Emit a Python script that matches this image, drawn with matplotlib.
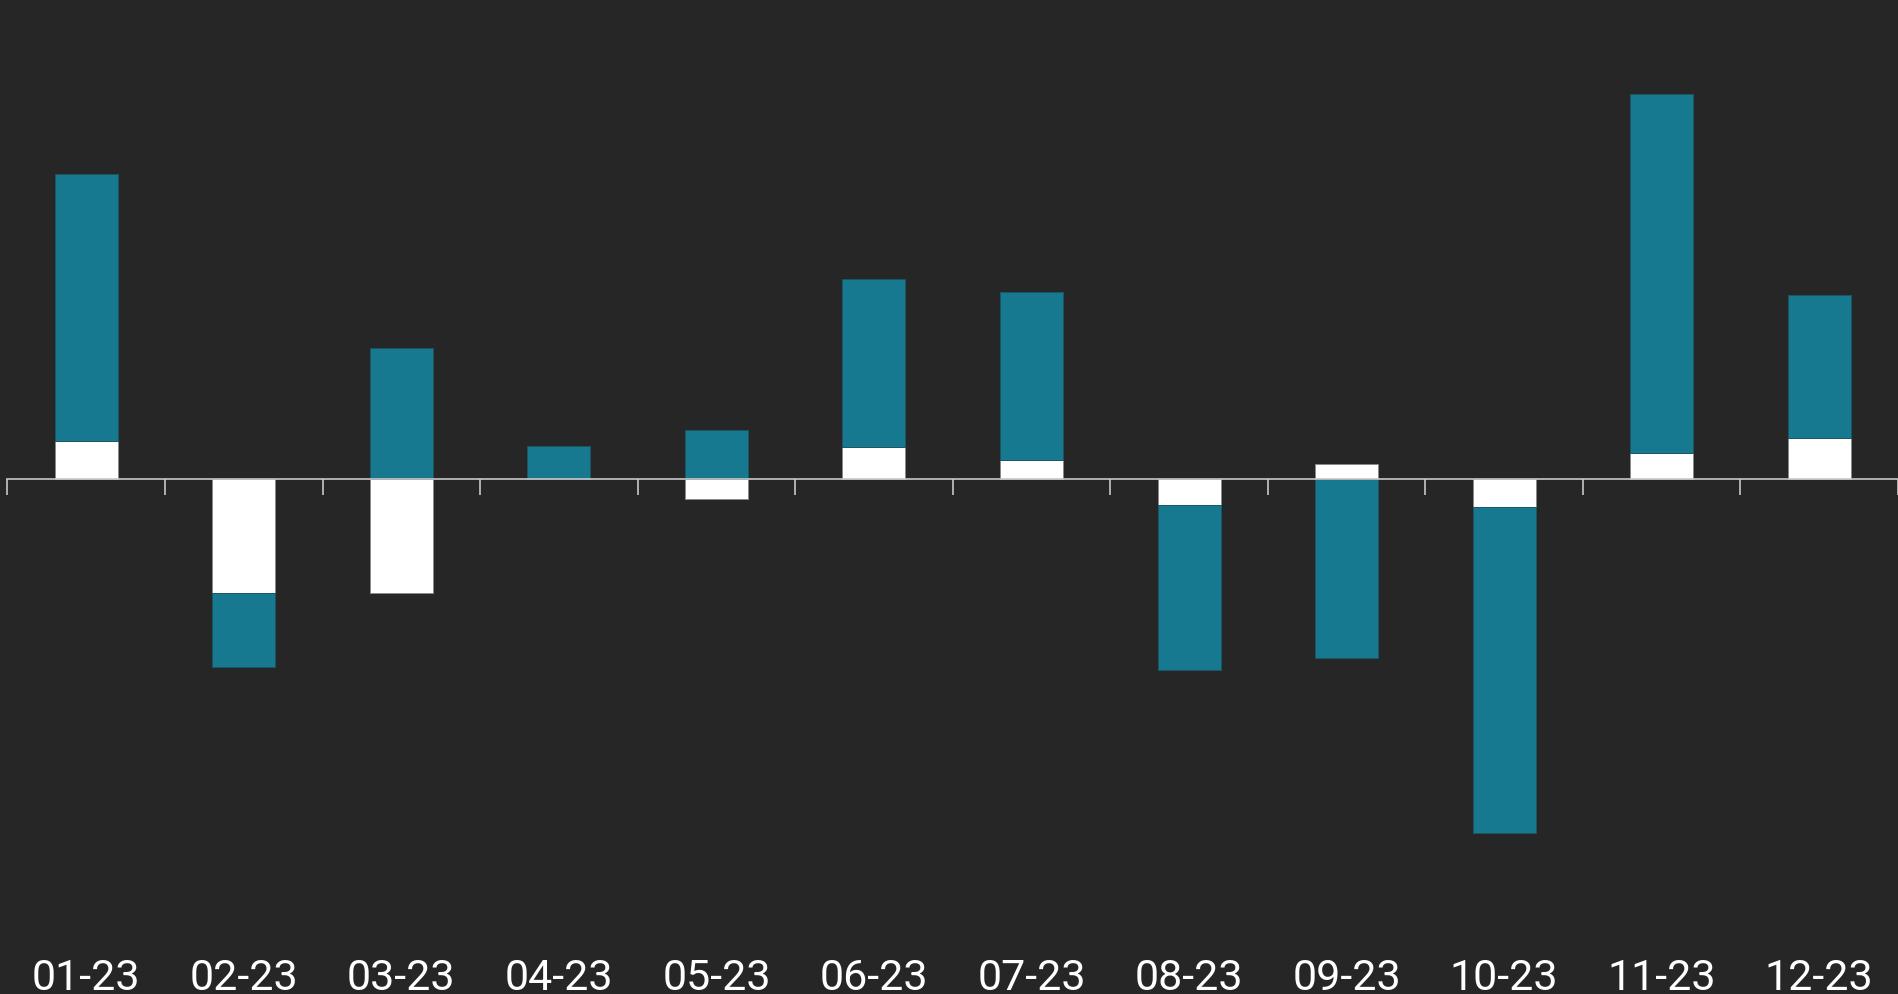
import numpy as np
import matplotlib
matplotlib.use("Agg")
import matplotlib.pyplot as plt
from matplotlib.transforms import blended_transform_factory

# ---- data ----
months = ["01-23", "02-23", "03-23", "04-23", "05-23", "06-23",
          "07-23", "08-23", "09-23", "10-23", "11-23", "12-23"]
white_vals = [0.38, -1.14, -1.14, 0.0, -0.205, 0.32, 0.19, -0.265, 0.15, -0.28, 0.26, 0.41]
teal_vals = [2.67, -0.74, 1.31, 0.33, 0.485, 1.68, 1.675, -1.645, -1.79, -3.26, 3.585, 1.425]

BG = "#262626"
TEAL = "#17798f"
WHITE = "#ffffff"
AXIS = "#c8c8c8"

plt.rcParams['font.family'] = ['Roboto', 'DejaVu Sans']

fig = plt.figure(figsize=(18.98, 9.95), dpi=100, facecolor=BG)
ax = fig.add_axes([0, 0, 1, 1])
ax.set_facecolor(BG)

x = np.arange(len(months))
white = np.array(white_vals)
teal = np.array(teal_vals)
teal_bottom = np.where(np.sign(teal) == np.sign(white), white, 0.0)

width = 0.40
ax.bar(x, white, width=width, color=WHITE, edgecolor="#8a8a8a", linewidth=0.7, zorder=1)
ax.bar(x, teal, width=width, bottom=teal_bottom, color=TEAL, edgecolor="#1b5664",
       linewidth=0.7, zorder=1)

ax.set_xlim(-0.5475, 11.45)
ax.set_ylim(-5.155, 4.795)

for s in ["top", "right", "left"]:
    ax.spines[s].set_visible(False)
ax.spines["bottom"].set_position(("data", 0))
ax.spines["bottom"].set_color(AXIS)
ax.spines["bottom"].set_linewidth(1.2)
ax.spines["bottom"].set_bounds(-0.5, 11.6)
ax.spines["bottom"].set_zorder(3)

ax.set_xticks(np.arange(-0.5, 12.0, 1.0))
ax.set_xticklabels([])
ax.tick_params(axis="x", direction="out", length=11.5, width=1.2, color=AXIS)
ax.set_yticks([])

trans = blended_transform_factory(ax.transData, ax.transAxes)
for xi, lab in zip(x, months):
    ax.text(xi, 5 / 995, lab, transform=trans, ha="center", va="baseline",
            color="white", fontsize=31)

fig.savefig("out.png", dpi=100, facecolor=BG)
